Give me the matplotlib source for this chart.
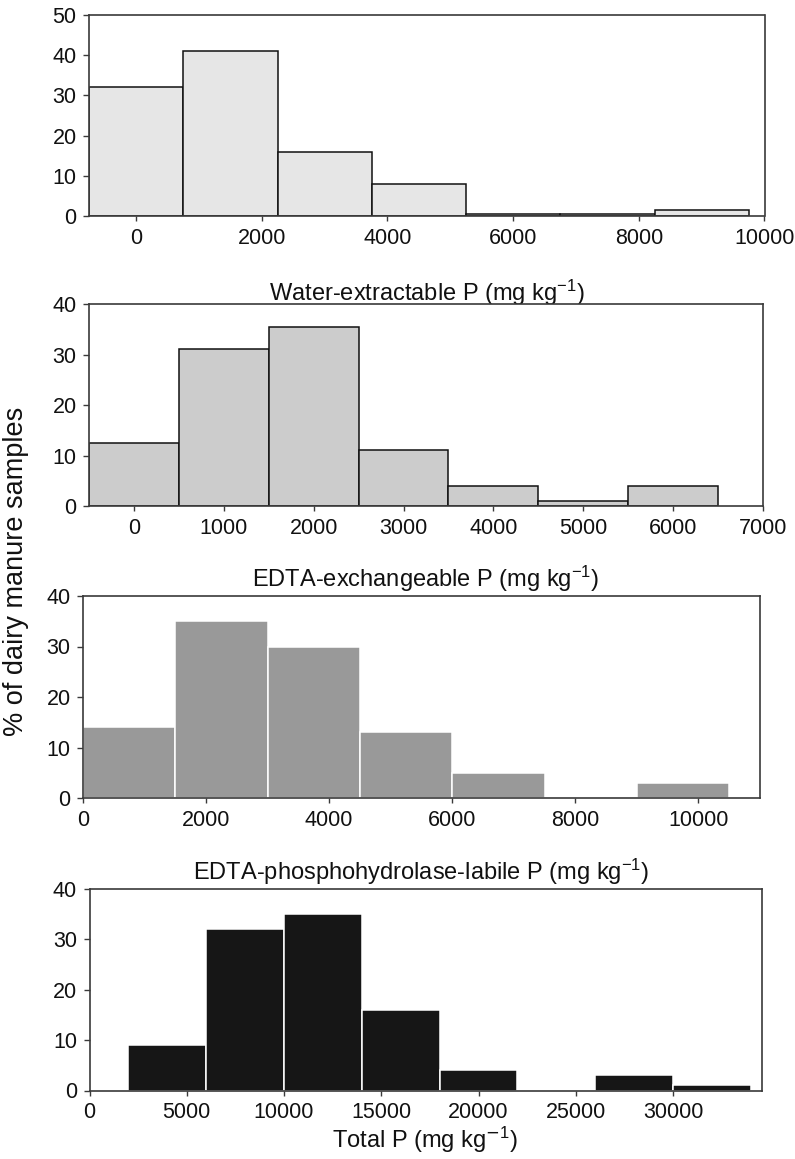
import matplotlib
matplotlib.use("Agg")
import matplotlib.pyplot as plt

plt.rcParams["font.family"] = ["Liberation Sans", "DejaVu Sans"]
plt.rcParams["mathtext.fontset"] = "custom"
plt.rcParams["mathtext.rm"] = "Liberation Sans"
plt.rcParams["mathtext.default"] = "regular"

# Histogram data: left bin edges, bin width and % of samples per bin
water_edges = [-750, 750, 2250, 3750, 5250, 6750, 8250]
water_width = 1500
water_pct = [32, 41, 16, 8, 0.5, 0.5, 1.5]

edta_edges = [-500, 500, 1500, 2500, 3500, 4500, 5500]
edta_width = 1000
edta_pct = [12.5, 31, 35.5, 11, 4, 1, 4]

phyd_edges = [0, 1500, 3000, 4500, 6000, 7500, 9000]
phyd_width = 1500
phyd_pct = [14, 35, 30, 13, 5, 0, 3]

total_edges = [2000, 6000, 10000, 14000, 18000, 22000, 26000, 30000]
total_width = 4000
total_pct = [9, 32, 35, 16, 4, 0, 3, 1]

xlabels = [
    r"Water-extractable P (mg kg$^{-1}$)",
    r"EDTA-exchangeable P (mg kg$^{-1}$)",
    r"EDTA-phosphohydrolase-labile P (mg kg$^{-1}$)",
    r"Total P (mg kg$^{\mathsf{-}1}$)",
]

W, H = 795, 1159
fig = plt.figure(figsize=(W / 100, H / 100), dpi=100)


def make_axes(left, right, top, bottom):
    return fig.add_axes([left / W, 1 - bottom / H, (right - left) / W, (bottom - top) / H])


panels = [
    dict(box=(89, 764.5, 15, 216), edges=water_edges, width=water_width, pct=water_pct,
         face="#e6e6e6", edge="#111111", xlim=(-750, 10000), xticks=range(0, 10001, 2000),
         ylim=(0, 50), yticks=range(0, 51, 10), label_y=292.5),
    dict(box=(89, 763, 304, 506), edges=edta_edges, width=edta_width, pct=edta_pct,
         face="#cccccc", edge="#111111", xlim=(-500, 7000), xticks=range(0, 7001, 1000),
         ylim=(0, 40), yticks=range(0, 41, 10), label_y=579),
    dict(box=(83, 760, 596, 798), edges=phyd_edges, width=phyd_width, pct=phyd_pct,
         face="#999999", edge="#ffffff", xlim=(0, 11000), xticks=range(0, 10001, 2000),
         ylim=(0, 40), yticks=range(0, 41, 10), label_y=872),
    dict(box=(89.5, 761.5, 889, 1090.5), edges=total_edges, width=total_width, pct=total_pct,
         face="#161616", edge="#ffffff", xlim=(0, 34550), xticks=range(0, 30001, 5000),
         ylim=(0, 40), yticks=range(0, 41, 10), label_y=1140),
]

for p, label in zip(panels, xlabels):
    ax = make_axes(*p["box"])
    ax.bar(p["edges"], p["pct"], width=p["width"], align="edge",
           color=p["face"], edgecolor=p["edge"], linewidth=1.1, zorder=2)
    ax.set_xlim(*p["xlim"])
    ax.set_ylim(*p["ylim"])
    ax.set_xticks(list(p["xticks"]))
    ax.set_yticks(list(p["yticks"]))
    for s in ax.spines.values():
        s.set_color("#3a3a3a")
        s.set_linewidth(1.2)
    ax.tick_params(axis="both", direction="out", width=1, color="#3a3a3a",
                   labelsize=15.5, labelcolor="#111111")
    ax.tick_params(axis="x", length=3.5, pad=5)
    ax.tick_params(axis="y", length=4, pad=5)
    ax.set_xlabel(label, fontsize=17, color="#111111", va="center")
    left, right, top, bottom = p["box"]
    ax.xaxis.set_label_coords(0.5, (bottom - p["label_y"]) / (bottom - top))

fig.text(16 / W, 1 - 571 / H, "% of dairy manure samples", rotation=90,
         ha="center", va="center", fontsize=19.5, color="#111111")

fig.savefig("out.png", dpi=100)
